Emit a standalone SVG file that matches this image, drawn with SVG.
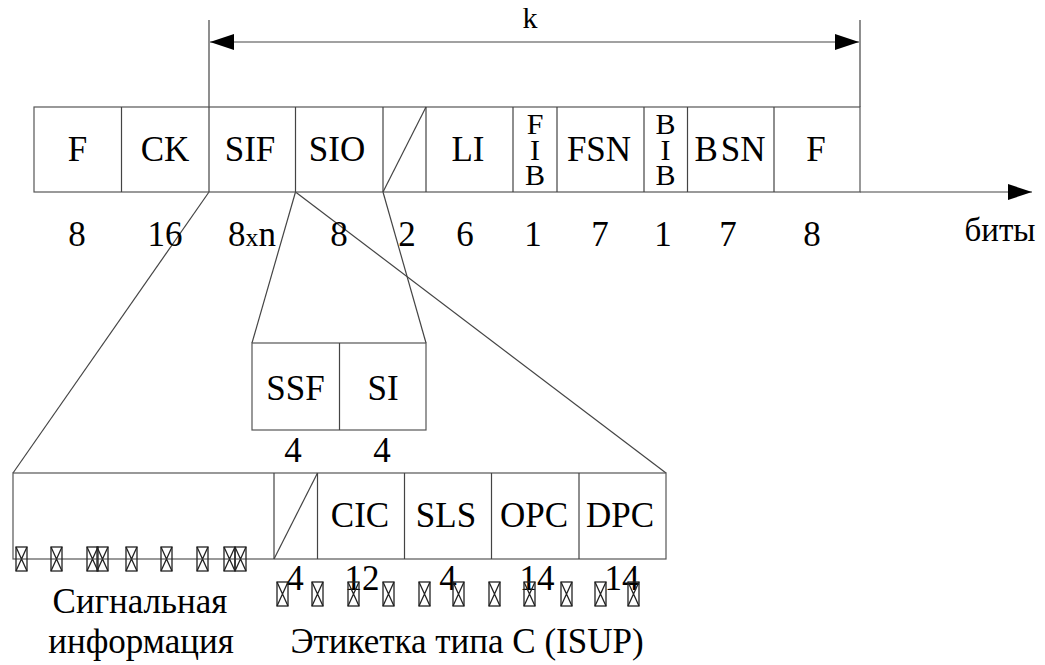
<svg xmlns="http://www.w3.org/2000/svg" width="1045" height="665" viewBox="0 0 1045 665">
<style>
.ln{stroke:#444;stroke-width:1.2;fill:none}
.bx{stroke:#555;stroke-width:1.2;fill:#fff}
.t{font-family:"Liberation Serif","Times New Roman",serif;font-size:35px;fill:#000;text-anchor:middle}
.v{font-size:30px;writing-mode:vertical-rl;text-orientation:upright;text-anchor:start}
.gb{stroke:#222;stroke-width:1.3;fill:none}
</style>
<defs>
<marker id="ah" viewBox="0 0 24 16" refX="24" refY="8" markerWidth="24" markerHeight="16" markerUnits="userSpaceOnUse" orient="auto-start-reverse">
<path d="M0,0 L24,8 L0,16 Z" fill="#000"/>
</marker>
<g id="gx"><rect x="0" y="0" width="11" height="24"/><path d="M0,0 L11,24 M11,0 L0,24"/></g>
</defs>
<rect width="1045" height="665" fill="#fff"/>

<g id="connectors">
<line class="ln" x1="209" y1="20" x2="209" y2="107"/>
<line class="ln" x1="860" y1="20" x2="860" y2="107"/>
<line class="ln" x1="210" y1="42" x2="859" y2="42" marker-start="url(#ah)" marker-end="url(#ah)"/>
<line class="ln" x1="860" y1="192" x2="1032" y2="192" marker-end="url(#ah)"/>
<line class="ln" x1="209" y1="192" x2="13" y2="473"/>
<line class="ln" x1="295.5" y1="192" x2="252" y2="343"/>
<line class="ln" x1="383" y1="192" x2="426" y2="343"/>
<line class="ln" x1="295.5" y1="192" x2="666" y2="473"/>
</g>

<g id="k-label"><text class="t" x="530" y="28" style="font-size:30px">k</text></g>

<g id="top-row">
<rect class="bx" x="34" y="107" width="826" height="85"/>
<path class="ln" d="M121.5,107V192M209,107V192M295.5,107V192M383,107V192M426,107V192M513,107V192M557,107V192M644,107V192M687.5,107V192M774,107V192"/>
<path class="ln" d="M383,192L426,107"/>
</g>
<g id="f1"><text class="t" x="77.5" y="161">F</text><text class="t" x="77" y="246">8</text></g>
<g id="ck"><text class="t" x="165" y="161">CK</text><text class="t" x="165" y="246">16</text></g>
<g id="sif"><text class="t" x="250" y="161">SIF</text><text class="t" x="252" y="246">8<tspan style="font-size:26px">x</tspan>n</text></g>
<g id="sio"><text class="t" x="337" y="161">SIO</text><text class="t" x="339" y="246">8</text></g>
<g id="spare"><text class="t" x="407" y="246">2</text></g>
<g id="li"><text class="t" x="468" y="161">LI</text><text class="t" x="465" y="246">6</text></g>
<g id="fib"><text class="t v" x="535" y="107" textLength="84" lengthAdjust="spacing">FIB</text><text class="t" x="533" y="246">1</text></g>
<g id="fsn"><text class="t" x="599" y="161">FSN</text><text class="t" x="600" y="246">7</text></g>
<g id="bib"><text class="t v" x="665.5" y="107" textLength="84" lengthAdjust="spacing">BIB</text><text class="t" x="663" y="246">1</text></g>
<g id="bsn"><text class="t" x="730" y="161">B<tspan dx="3">SN</tspan></text><text class="t" x="728" y="246">7</text></g>
<g id="f2"><text class="t" x="816" y="161">F</text><text class="t" x="812" y="246">8</text></g>
<g id="bits"><text class="t" x="1000" y="241" style="font-size:33px">биты</text></g>

<g id="sio-detail">
<rect class="bx" x="252" y="343" width="174" height="87"/>
<path class="ln" d="M339.5,343V430"/>
<text class="t" x="295.5" y="400">SSF</text>
<text class="t" x="383" y="400">SI</text>
<text class="t" x="293" y="462">4</text>
<text class="t" x="382" y="462">4</text>
</g>

<g id="sif-detail">
<rect class="bx" x="13" y="473" width="653" height="86"/>
<path class="ln" d="M274,473V559M317.5,473V559M404.5,473V559M491.5,473V559M579,473V559"/>
<path class="ln" d="M274,559L317.5,473"/>
</g>
<g id="cic"><text class="t" x="360" y="527">CIC</text><text class="t" x="362" y="590">12</text></g>
<g id="sls"><text class="t" x="446" y="527">SLS</text><text class="t" x="448" y="590">4</text></g>
<g id="opc"><text class="t" x="534" y="527">OPC</text><text class="t" x="537" y="590">14</text></g>
<g id="dpc"><text class="t" x="620" y="527">DPC</text><text class="t" x="622" y="590">14</text></g>
<g id="spare2"><text class="t" x="295" y="590">4</text></g>

<g id="caption-left"><text class="t" x="140" y="613">Сигнальная</text><text class="t" x="141" y="653">информация</text></g>
<g id="caption-right"><text class="t" x="467" y="653">Этикетка типа С (ISUP)</text></g>

<g id="glyph-boxes" class="gb">
<use href="#gx" x="16" y="547"/><use href="#gx" x="51" y="547"/><use href="#gx" x="87" y="547"/><use href="#gx" x="97" y="547"/><use href="#gx" x="126" y="547"/><use href="#gx" x="161" y="547"/><use href="#gx" x="197" y="547"/><use href="#gx" x="224" y="547"/><use href="#gx" x="235" y="547"/>
<use href="#gx" x="277" y="582"/><use href="#gx" x="312" y="582"/><use href="#gx" x="348" y="582"/><use href="#gx" x="383" y="582"/><use href="#gx" x="419" y="582"/><use href="#gx" x="453" y="582"/><use href="#gx" x="489" y="582"/><use href="#gx" x="524" y="582"/><use href="#gx" x="561" y="582"/><use href="#gx" x="595" y="582"/><use href="#gx" x="628" y="582"/>
</g>
</svg>
